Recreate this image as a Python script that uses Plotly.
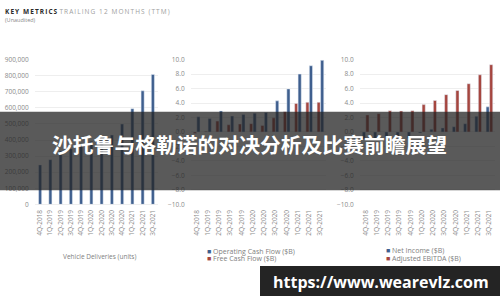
import plotly.graph_objects as go

quarters = ["4Q-2018", "1Q-2019", "2Q-2019", "3Q-2019", "4Q-2019", "1Q-2020",
            "2Q-2020", "3Q-2020", "4Q-2020", "1Q-2021", "2Q-2021", "3Q-2021"]
deliveries = [245240, 278000, 332000, 346000, 367500, 393000, 388000, 431000, 499550, 595000, 706000, 808000]
op_cash_flow = [2.1, 1.85, 2.9, 2.2, 2.4, 2.6, 2.7, 4.3, 5.95, 8.0, 9.15, 9.9]
free_cash_flow = [-0.2, 0.1, 1.5, 1.0, 1.1, 1.15, 0.9, 1.95, 2.8, 3.95, 4.1, 4.1]
net_income = [-0.98, -0.97, -0.66, -0.83, -0.86, -0.14, 0.37, 0.56, 0.72, 1.14, 2.18, 3.47]
adj_ebitda = [2.36, 2.53, 2.93, 2.89, 2.93, 3.78, 4.36, 5.16, 5.73, 6.67, 7.9, 9.3]
money_ticks = [-10, -8, -6, -4, -2, 0, 2, 4, 6, 8, 10]
delivery_ticks = [0, 100000, 200000, 300000, 400000, 500000, 600000, 700000, 800000, 900000]

BLUE = "#3f5f8e"
RED = "#a5463f"
TICKC = "#8a8a8a"
GRID = "#eeeeee"
FONT = "Open Sans"

W, H = 500, 300

fig = go.Figure()
fig.add_trace(go.Bar(x=quarters, y=deliveries, name="Vehicle Deliveries (units)",
                     marker_color=BLUE, width=0.3, offset=-0.15, xaxis="x", yaxis="y"))
fig.add_trace(go.Bar(x=quarters, y=free_cash_flow, name="Free Cash Flow ($B)",
                     marker_color=RED, width=0.28, offset=-0.29, xaxis="x2", yaxis="y2"))
fig.add_trace(go.Bar(x=quarters, y=op_cash_flow, name="Operating Cash Flow ($B)",
                     marker_color=BLUE, width=0.28, offset=0.02, xaxis="x2", yaxis="y2"))
fig.add_trace(go.Bar(x=quarters, y=net_income, name="Net Income ($B)",
                     marker_color=BLUE, width=0.28, offset=-0.29, xaxis="x3", yaxis="y3"))
fig.add_trace(go.Bar(x=quarters, y=adj_ebitda, name="Adjusted EBITDA ($B)",
                     marker_color=RED, width=0.28, offset=0.02, xaxis="x3", yaxis="y3"))

ydom = [1 - 205.5 / H, 1 - 56.3 / H]

def xax(d0, d1, anchor):
    return dict(domain=[d0 / W, d1 / W], anchor=anchor, type="category", tickangle=-90,
                tickfont=dict(family=FONT, size=6.5, color=TICKC), showgrid=False,
                showline=False, zeroline=False, ticks="outside", ticklen=2, tickcolor="rgba(0,0,0,0)")

def yax(anchor, rng, vals, fmt):
    return dict(domain=ydom, anchor=anchor, range=rng, tickvals=vals, tickformat=fmt,
                tickfont=dict(family=FONT, size=6.5, color=TICKC), showgrid=True, gridcolor=GRID,
                gridwidth=1, zeroline=True, zerolinecolor=GRID, zerolinewidth=1, showline=False,
                ticks="outside", ticklen=4, tickcolor="rgba(0,0,0,0)")

fig.update_layout(
    width=W, height=H, margin=dict(l=0, r=0, t=0, b=0),
    paper_bgcolor="white", plot_bgcolor="white", showlegend=False,
    barmode="overlay", separators=".,",
    xaxis=xax(35, 158, "y"), yaxis=yax("x", [0, 900000], delivery_ticks, ","),
    xaxis2=xax(191, 326, "y2"), yaxis2=yax("x2", [-10, 10], money_ticks, ".1f"),
    xaxis3=xax(360, 495, "y3"), yaxis3=yax("x3", [-10, 10], money_ticks, ".1f"),
)

def px(x):
    return x / W

def py(y):
    return 1 - y / H

ann = []
sp = "\u2009"
title1 = sp.join("KEY METRICS")
title2 = sp.join("TRAILING 12 MONTHS (TTM)")
ann.append(dict(x=px(3), y=py(7), xref="paper", yref="paper", xanchor="left", yanchor="middle",
                showarrow=False,
                text=f"<b>{title1}</b>{sp}{sp}<span style='color:#a0a0a0'>{title2}</span>",
                font=dict(family=FONT, size=6.5, color="#2a2a2a")))
ann.append(dict(x=px(3), y=py(15.5), xref="paper", yref="paper", xanchor="left", yanchor="middle",
                showarrow=False, text="(Unaudited)", font=dict(family=FONT, size=5.5, color="#888888")))
ann.append(dict(x=px(99), y=py(259), xref="paper", yref="paper", xanchor="center", yanchor="middle",
                showarrow=False, text="Vehicle Deliveries (units)", font=dict(family=FONT, size=6.5, color="#808080")))

def legend_item(x, y, color, label):
    ann.append(dict(x=px(x), y=py(y), xref="paper", yref="paper", xanchor="left", yanchor="middle",
                    showarrow=False, text=f"<span style='color:{color}'>■</span> {label}",
                    font=dict(family=FONT, size=7, color="#808080")))

legend_item(205, 254, BLUE, "Operating Cash Flow ($B)")
legend_item(205, 261.5, RED, "Free Cash Flow ($B)")
legend_item(384, 253.5, BLUE, "Net Income ($B)")
legend_item(384, 261, RED, "Adjusted EBITDA ($B)")

ann.append(dict(x=px(249), y=py(143), xref="paper", yref="paper", xanchor="center", yanchor="middle",
                showarrow=False, text="<b>沙托鲁与格勒诺的对决分析及比赛前瞻展望</b>",
                font=dict(family="Noto Sans CJK SC", size=20.8, color="white")))
ann.append(dict(x=px(381), y=py(286), xref="paper", yref="paper", xanchor="center", yanchor="middle",
                showarrow=False, text="<b>https://www.wearevlz.com</b>",
                font=dict(family="Open Sans", size=16, color="white")))

fig.update_layout(annotations=ann, shapes=[
    dict(type="rect", xref="paper", yref="paper", x0=0, x1=1, y0=py(191), y1=py(110),
         fillcolor="rgba(35,35,35,0.75)", line=dict(width=0), layer="above"),
    dict(type="rect", xref="paper", yref="paper", x0=px(260), x1=1.0, y0=py(300), y1=py(269),
         fillcolor="#242424", line=dict(width=0), layer="above"),
])

fig.write_html("out.html")
